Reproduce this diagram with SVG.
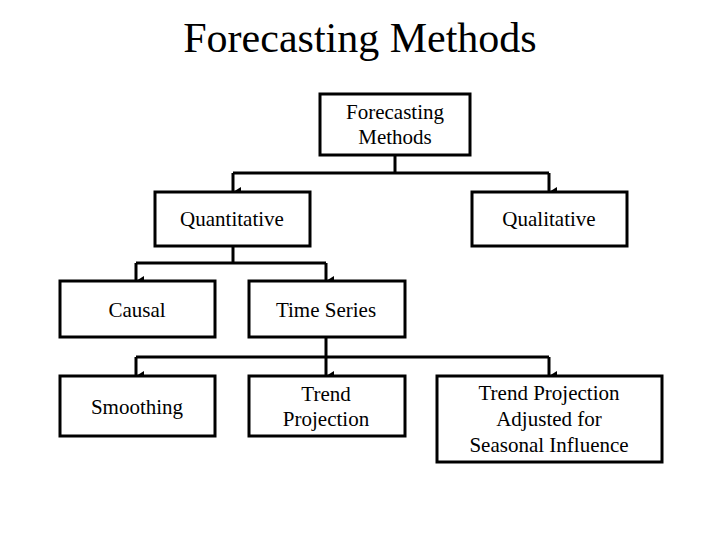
<svg xmlns="http://www.w3.org/2000/svg" width="720" height="540" viewBox="0 0 720 540">
<style>
.b{fill:#fff;stroke:#000;stroke-width:3}
.t{font-family:"Liberation Serif",serif;font-size:21px;text-anchor:middle;fill:#000}
.c{fill:none;stroke:#000;stroke-width:3}
</style>
<defs><marker id="a" markerWidth="10" markerHeight="8" refX="5" refY="8" orient="auto" markerUnits="userSpaceOnUse" viewBox="0 0 10 8"><path d="M0,0 L10,0 L5,8 Z" fill="#000"/></marker></defs>
<rect width="720" height="540" fill="#fff"/>
<text x="360" y="52" style="font-family:'Liberation Serif',serif;font-size:42px;text-anchor:middle">Forecasting Methods</text>
<g id="connectors">
<path class="c" d="M395,155 V173"/>
<path class="c" d="M233,173 H549"/>
<path class="c" d="M233,173 V192" marker-end="url(#a)"/>
<path class="c" d="M549,173 V192" marker-end="url(#a)"/>
<path class="c" d="M233,246 V263"/>
<path class="c" d="M136,263 H326"/>
<path class="c" d="M136,263 V281" marker-end="url(#a)"/>
<path class="c" d="M326,263 V281" marker-end="url(#a)"/>
<path class="c" d="M326,337 V357"/>
<path class="c" d="M136,357 H549"/>
<path class="c" d="M136,357 V376" marker-end="url(#a)"/>
<path class="c" d="M326,357 V376" marker-end="url(#a)"/>
<path class="c" d="M549,357 V376" marker-end="url(#a)"/>
</g>
<g id="root"><rect class="b" x="320" y="94" width="150" height="61"/><text class="t" x="395" y="119">Forecasting</text><text class="t" x="395" y="144">Methods</text></g>
<g id="quant"><rect class="b" x="155" y="192" width="155" height="54"/><text class="t" x="232" y="226">Quantitative</text></g>
<g id="qual"><rect class="b" x="472" y="192" width="155" height="54"/><text class="t" x="549" y="226">Qualitative</text></g>
<g id="causal"><rect class="b" x="60" y="281" width="155" height="56"/><text class="t" x="137" y="317">Causal</text></g>
<g id="ts"><rect class="b" x="249" y="281" width="156" height="56"/><text class="t" x="326" y="317">Time Series</text></g>
<g id="smooth"><rect class="b" x="60" y="376" width="155" height="60"/><text class="t" x="137" y="414">Smoothing</text></g>
<g id="trend"><rect class="b" x="249" y="376" width="156" height="60"/><text class="t" x="326" y="401">Trend</text><text class="t" x="326" y="426">Projection</text></g>
<g id="adj"><rect class="b" x="437" y="376" width="225" height="86"/><text class="t" x="549" y="400">Trend Projection</text><text class="t" x="549" y="426">Adjusted for</text><text class="t" x="549" y="452">Seasonal Influence</text></g>
</svg>
